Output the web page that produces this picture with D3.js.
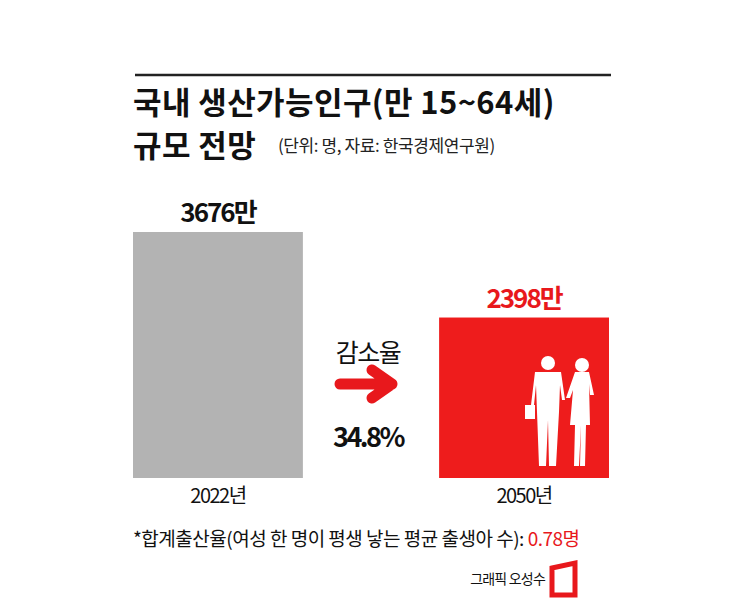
<!DOCTYPE html><html><head><meta charset="utf-8"><script src="https://d3js.org/d3.v7.min.js"></script>
<style>body{margin:0;background:#fff}text{font-family:"Noto Sans CJK KR",sans-serif}</style></head><body>
<script>
const years=["2022년","2050년"];
const values=[3676,2398];
const valueLabels=["3676만","2398만"];
const rateLabel="34.8%";
const W=745,H=610;
const svg=d3.select("body").append("svg").attr("width",W).attr("height",H);
const x=d3.scaleBand().domain(years).range([133,609]).paddingInner(0.445).paddingOuter(0);
const y=d3.scaleLinear().domain([0,3676]).range([478,232]);
const colors=["#b3b3b3","#ee1c1c"];
svg.append("line").attr("x1",135).attr("x2",611).attr("y1",75).attr("y2",75).attr("stroke","#222").attr("stroke-width",2.5);
svg.append("text").attr("x",133).attr("y",114).attr("font-size",31).attr("font-weight",700).attr("letter-spacing",0.4).attr("fill","#111").text("국내 생산가능인구(만 15~64세)");
svg.append("text").attr("x",133).attr("y",157).attr("font-size",31).attr("font-weight",700).attr("letter-spacing",0.4).attr("fill","#111").text("규모 전망");
svg.append("text").attr("x",278).attr("y",152).attr("font-size",17).attr("letter-spacing",-0.4).attr("fill","#222").text("(단위: 명, 자료: 한국경제연구원)");
svg.selectAll("rect.bar").data(values).join("rect").attr("class","bar")
 .attr("x",(d,i)=>x(years[i])).attr("width",x.bandwidth()).attr("y",d=>y(d)).attr("height",d=>y(0)-y(d)).attr("fill",(d,i)=>colors[i]);
svg.selectAll("text.val").data(values).join("text").attr("class","val")
 .attr("x",(d,i)=>x(years[i])+x.bandwidth()/2).attr("y",d=>y(d)-10).attr("text-anchor","middle")
 .attr("font-size",26).attr("font-weight",700).attr("letter-spacing",-2).attr("fill",(d,i)=>i?"#e8181c":"#111").text((d,i)=>valueLabels[i]);
svg.selectAll("text.yr").data(years).join("text").attr("class","yr")
 .attr("x",d=>x(d)+x.bandwidth()/2).attr("y",503).attr("text-anchor","middle").attr("font-size",20).attr("letter-spacing",-1.5).attr("fill","#111").text(d=>d);
svg.append("text").attr("x",368).attr("y",362).attr("text-anchor","middle").attr("font-size",25).attr("letter-spacing",-1.5).attr("fill","#111").text("감소율");
svg.append("path").attr("d","M340,384 L392,384 M372,370 L392,384 L372,398").attr("fill","none").attr("stroke","#e8181c").attr("stroke-width",11).attr("stroke-linecap","round").attr("stroke-linejoin","round");
svg.append("text").attr("x",368).attr("y",447).attr("text-anchor","middle").attr("font-size",27).attr("font-weight",700).attr("letter-spacing",-2.5).attr("fill","#111").text(rateLabel);
const g=svg.append("g").attr("fill","#fff");
g.append("circle").attr("cx",548).attr("cy",363).attr("r",7);
g.append("path").attr("d","M535,372 L561,372 L565,400 L562,400 L560,385 L559,412 L556,466 L549,466 L548,420 L546,466 L539,466 L537,412 L536,385 L534,405 L531,405 Z");
g.append("rect").attr("x",525).attr("y",405).attr("width",10).attr("height",14);
g.append("circle").attr("cx",582).attr("cy",365).attr("r",7);
g.append("path").attr("d","M575,372 L589,372 L594,395 L590,395 L589,384 L590,425 L586,425 L585,466 L580,466 L581,425 L579,466 L574,466 L575,425 L570,425 L573,390 L570,398 L566,398 Z");
const fn=svg.append("text").attr("x",133).attr("y",546).attr("font-size",19).attr("letter-spacing",-0.5).attr("fill","#111");
fn.append("tspan").text("*합계출산율(여성 한 명이 평생 낳는 평균 출생아 수): ");
fn.append("tspan").attr("fill","#e8181c").text("0.78명");
svg.append("text").attr("x",545).attr("y",584).attr("text-anchor","end").attr("font-size",14).attr("letter-spacing",-0.8).attr("fill","#111").text("그래픽 오성수");
svg.append("path").attr("d","M552,568 L575,563 L575,595 L552,595 Z").attr("fill","none").attr("stroke","#e8181c").attr("stroke-width",5);
</script></body></html>
